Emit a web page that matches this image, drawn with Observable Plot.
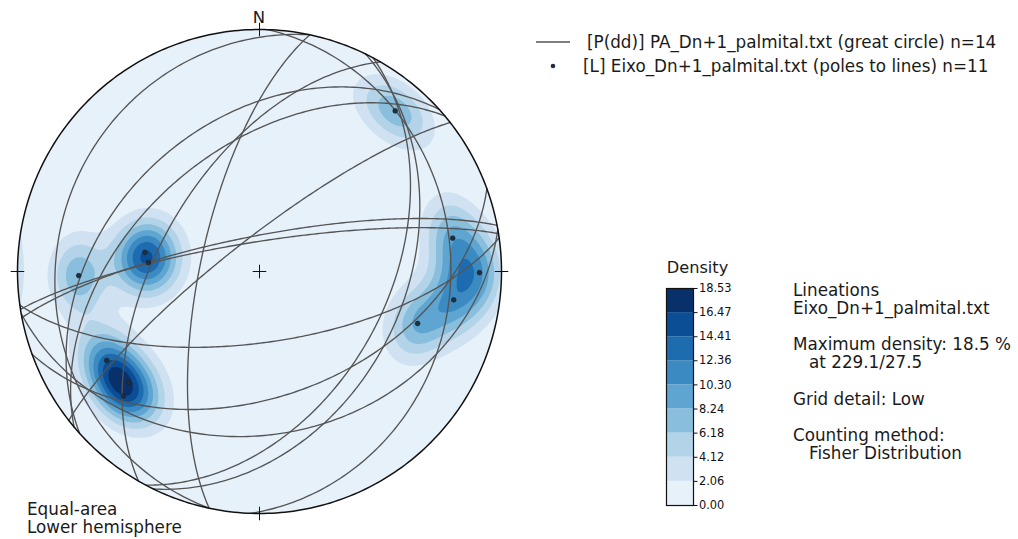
<!DOCTYPE html>
<html><head><meta charset="utf-8">
<script src="https://cdn.jsdelivr.net/npm/d3@7"></script>
<script src="https://cdn.jsdelivr.net/npm/@observablehq/plot@0.6"></script>
<style>
body{margin:0;background:#fff;}
#wrap{position:relative;width:1018px;height:539px;overflow:hidden;font-family:"DejaVu Sans",sans-serif;}
#wrap > *{position:absolute;}
</style></head><body><div id="wrap"></div>
<script>
// ---- data ----
// great circles: planes as dip direction / dip (degrees)
const planeDipDir = [351, 349, 282, 282, 318, 300, 320, 322, 116, 118,  92, 172, 160, 170];
const planeDip    = [ 80,  78,  70,  17,  38,  56,  48,  79,  40,  46,  22,  66,  47,  33];
// lineations: trend / plunge (degrees)
const lineTrend  = [40.2, 279.5, 274.6, 268.7, 80.2, 90.3, 98.3, 108.2, 239.8, 229.6, 227.5];
const linePlunge = [14.2,  50.3,  52.0,  26.2, 20.1, 10.0, 20.0,  31.8,  27.8,  29.8,  24.8];
// colour-bar levels (density %)
const densityLevels = [0.00, 2.06, 4.12, 6.18, 8.24, 10.30, 12.36, 14.41, 16.47, 18.53];
const legendLabels = ["[P(dd)] PA_Dn+1_palmital.txt (great circle) n=14",
                      "[L] Eixo_Dn+1_palmital.txt (poles to lines) n=11"];
const infoLines = ["Lineations", "Eixo_Dn+1_palmital.txt", "Maximum density: 18.5 %", "   at 229.1/27.5",
                   "Grid detail: Low", "Counting method:", "   Fisher Distribution"];

// ---- geometry helpers ----
const rad = Math.PI / 180;
function vec(tr, pl) { return [Math.cos(pl*rad)*Math.sin(tr*rad), Math.cos(pl*rad)*Math.cos(tr*rad), Math.sin(pl*rad)]; }
function project(v) { // lower hemisphere equal-area (Schmidt)
  let [x, y, z] = v; if (z < 0) { x = -x; y = -y; z = -z; }
  const h = Math.hypot(x, y); if (h < 1e-12) return [0, 0];
  const r = Math.SQRT2 * Math.sin(Math.acos(Math.min(1, z)) / 2);
  return [r * x / h, r * y / h];
}
function unproject(px, py) {
  let r = Math.hypot(px, py); if (r > 1) { px /= r; py /= r; r = 1; }
  if (r < 1e-12) return [0, 0, 1];
  const th = 2 * Math.asin(r / Math.SQRT2), s = Math.sin(th);
  return [s * px / r, s * py / r, Math.cos(th)];
}
const lineVecs = lineTrend.map((t, i) => vec(t, linePlunge[i]));
const kappa = 55;
function rawDensity(v) { let s = 0; for (const u of lineVecs) { const d = Math.abs(v[0]*u[0] + v[1]*u[1] + v[2]*u[2]); s += Math.exp(kappa * (d - 1)); } return s; }
let rawMax = 0;
for (let t = 0; t < 360; t += 0.5) for (let p = 0; p <= 90; p += 0.5) { const r = rawDensity(vec(t, p)); if (r > rawMax) rawMax = r; }
const dScale = densityLevels[densityLevels.length - 1] / rawMax;
const densityAt = (x, y) => rawDensity(unproject(x, y)) * dScale;

const bandColors = d3.range(9).map(i => d3.interpolateBlues(0.08 + i * 0.115));

const gc = [];
planeDipDir.forEach((dd, i) => {
  const s = vec(dd - 90, 0), d = vec(dd, planeDip[i]);
  for (let a = 0; a <= 180; a += 1) {
    const c = Math.cos(a * rad), sn = Math.sin(a * rad);
    const [x, y] = project([c*s[0] + sn*d[0], c*s[1] + sn*d[1], c*s[2] + sn*d[2]]);
    gc.push({plane: i, x, y});
  }
});
const poles = lineTrend.map((t, i) => { const [x, y] = project(lineVecs[i]); return {x, y}; });
const prim = d3.range(0, 361, 1).map(a => ({x: Math.sin(a * rad), y: Math.cos(a * rad)}));
const tk = 0.028;
const ticks = [
  {x1: -tk, y1: 0, x2: tk, y2: 0}, {x1: 0, y1: -tk, x2: 0, y2: tk},
  {x1: 0, y1: 1 - tk, x2: 0, y2: 1 + tk}, {x1: 0, y1: -1 - tk, x2: 0, y2: -1 + tk},
  {x1: 1 - tk, y1: 0, x2: 1 + tk, y2: 0}, {x1: -1 - tk, y1: 0, x2: -1 + tk, y2: 0}
];

const net = Plot.plot({
  width: 520, height: 539, margin: 0,
  style: {background: "transparent", overflow: "visible"},
  x: {domain: [-1, 1], range: [17, 501], axis: null},
  y: {domain: [-1, 1], range: [513, 29], axis: null},
  color: {type: "threshold", domain: densityLevels.slice(1, 9), range: bandColors},
  marks: [
    Plot.dot([{x: 0, y: 0}], {x: "x", y: "y", r: 242, fill: bandColors[0], stroke: "none"}),
    Plot.contour({fill: densityAt, x1: -1.03, y1: -1.03, x2: 1.03, y2: 1.03,
                  thresholds: densityLevels.slice(1, 9), stroke: "none", pixelSize: 2}),
    Plot.line(gc, {x: "x", y: "y", z: "plane", stroke: "#555", strokeWidth: 1.35}),
    Plot.line(prim, {x: "x", y: "y", stroke: "#111", strokeWidth: 1.5}),
    Plot.link(ticks, {x1: "x1", y1: "y1", x2: "x2", y2: "y2", stroke: "#111", strokeWidth: 1}),
    Plot.dot(poles, {x: "x", y: "y", r: 2.4, fill: "#1f2f3d", stroke: "#14202b", strokeWidth: 0.6})
  ]
});
// clip the density contours to the primitive circle
(function () {
  const ns = "http://www.w3.org/2000/svg";
  const defs = document.createElementNS(ns, "defs");
  const cp = document.createElementNS(ns, "clipPath"); cp.setAttribute("id", "diskclip");
  const c = document.createElementNS(ns, "circle");
  c.setAttribute("cx", 259); c.setAttribute("cy", 271); c.setAttribute("r", 242);
  cp.appendChild(c); defs.appendChild(cp); net.insertBefore(defs, net.firstChild);
  const g = net.querySelector('[aria-label="contour"]');
  if (g) g.setAttribute("clip-path", "url(#diskclip)");
})();
net.style.left = "0px"; net.style.top = "0px";
document.getElementById("wrap").appendChild(net);

const bands = densityLevels.slice(0, 9).map((lo, i) => ({lo, hi: densityLevels[i + 1], c: bandColors[i]}));
const cbar = Plot.plot({
  width: 110, height: 260, marginLeft: 16, marginRight: 67, marginTop: 18, marginBottom: 25,
  style: {background: "transparent", fontSize: "11.4px", fontFamily: "DejaVu Sans", color: "#111"},
  x: {domain: [0, 1], axis: null},
  y: {domain: [0, 18.53], axis: "right", ticks: densityLevels, tickFormat: d => d.toFixed(2), tickSize: 3.5, tickPadding: 2, label: null},
  marks: [
    Plot.rect(bands, {x1: 0, x2: 1, y1: "lo", y2: "hi", fill: "c"}),
    Plot.frame({stroke: "#111", strokeWidth: 1.2})
  ]
});
cbar.style.left = "650px"; cbar.style.top = "270px";
document.getElementById("wrap").appendChild(cbar);

// text overlay
const ns = "http://www.w3.org/2000/svg";
const ov = document.createElementNS(ns, "svg");
ov.setAttribute("width", 1018); ov.setAttribute("height", 539);
ov.style.left = "0px"; ov.style.top = "0px"; ov.style.pointerEvents = "none";
function txt(s, x, y, size, anchor) {
  const t = document.createElementNS(ns, "text");
  t.setAttribute("x", x); t.setAttribute("y", y); t.setAttribute("font-size", size);
  t.setAttribute("font-family", "DejaVu Sans"); t.setAttribute("fill", "#1a1a1a");
  if (anchor) t.setAttribute("text-anchor", anchor);
  t.setAttribute("xml:space", "preserve"); t.style.whiteSpace = "pre";
  t.textContent = s; ov.appendChild(t);
}
txt("N", 259, 22.7, 16.5, "middle");
txt("Equal-area", 27, 515, 16.8);
txt("Lower hemisphere", 27, 533, 16.8);
txt(legendLabels[0], 587, 48, 16.8);
txt(legendLabels[1], 583, 72, 16.8);
const ln = document.createElementNS(ns, "line");
ln.setAttribute("x1", 536); ln.setAttribute("x2", 570); ln.setAttribute("y1", 42); ln.setAttribute("y2", 42);
ln.setAttribute("stroke", "#555"); ln.setAttribute("stroke-width", 1.3); ov.appendChild(ln);
const dt = document.createElementNS(ns, "circle");
dt.setAttribute("cx", 553); dt.setAttribute("cy", 66); dt.setAttribute("r", 2.3); dt.setAttribute("fill", "#1f2f3d");
ov.appendChild(dt);
txt("Density", 697.5, 273, 16.2, "middle");
const infoY = [296, 314, 350, 368, 405, 441, 459];
infoLines.forEach((s, i) => txt(s, 793, infoY[i], 16.8));
document.getElementById("wrap").appendChild(ov);
</script>
</body></html>
